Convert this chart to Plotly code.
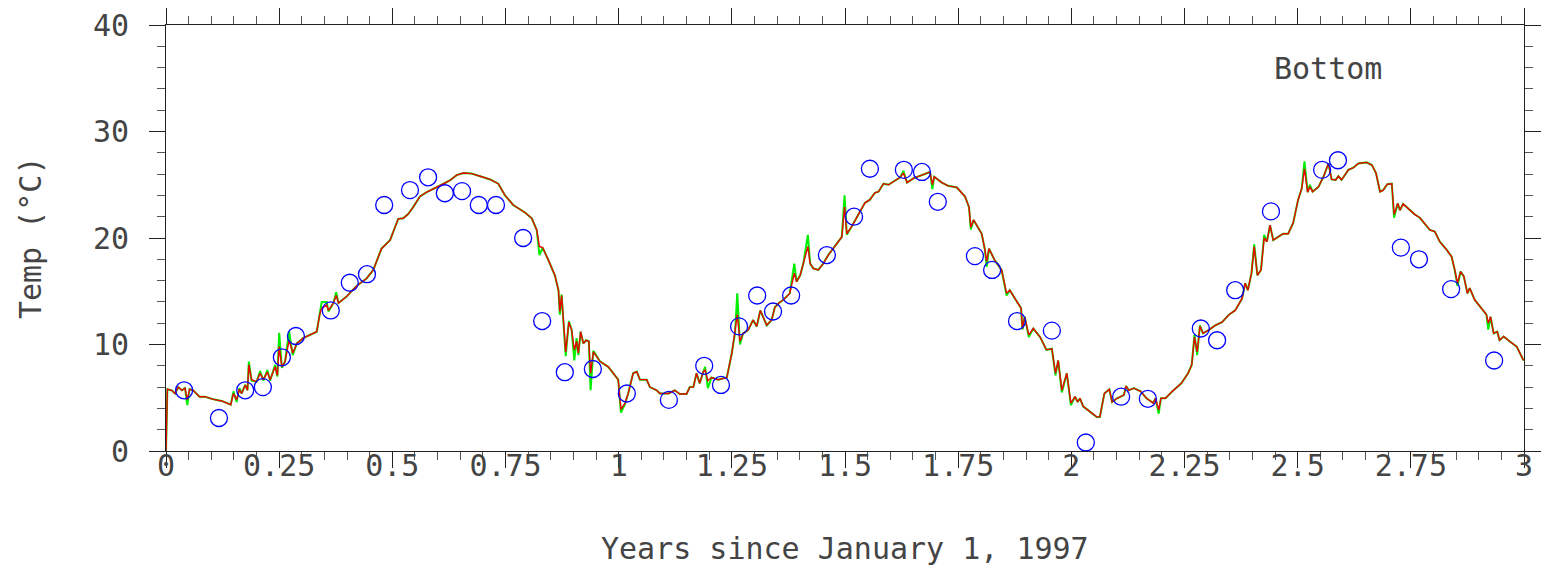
import plotly.graph_objects as go

# ---- model time axis (years since 1997-01-01) ----
t_model = [0.000, 0.003, 0.0125, 0.020, 0.027, 0.035, 0.042, 0.047, 0.052, 0.060,
           0.074, 0.086, 0.105, 0.123, 0.143, 0.149, 0.156, 0.162, 0.167, 0.175,
           0.180, 0.183, 0.189, 0.200, 0.208, 0.215, 0.224, 0.230, 0.241, 0.246,
           0.250, 0.256, 0.263, 0.272, 0.280, 0.289, 0.303, 0.333, 0.340, 0.344,
           0.355, 0.359, 0.370, 0.376, 0.381, 0.399, 0.421, 0.443, 0.458, 0.476,
           0.495, 0.506, 0.513, 0.524, 0.535, 0.546, 0.561, 0.576, 0.591, 0.609,
           0.627, 0.642, 0.657, 0.675, 0.694, 0.716, 0.734, 0.749, 0.767, 0.793,
           0.808, 0.819, 0.825, 0.832, 0.845, 0.859, 0.867, 0.870, 0.874, 0.878,
           0.883, 0.890, 0.896, 0.902, 0.907, 0.911, 0.916, 0.922, 0.928, 0.934,
           0.938, 0.944, 0.959, 0.977, 0.992, 0.999, 1.005, 1.014, 1.021, 1.032,
           1.040, 1.047, 1.062, 1.069, 1.084, 1.091, 1.110, 1.124, 1.135, 1.150,
           1.157, 1.165, 1.172, 1.179, 1.187, 1.191, 1.197, 1.205, 1.220, 1.239,
           1.250, 1.257, 1.262, 1.268, 1.275, 1.286, 1.297, 1.305, 1.313, 1.327,
           1.338, 1.345, 1.354, 1.364, 1.378, 1.388, 1.393, 1.401, 1.408, 1.418,
           1.423, 1.430, 1.441, 1.452, 1.463, 1.478, 1.493, 1.499, 1.504, 1.515,
           1.529, 1.544, 1.555, 1.566, 1.574, 1.585, 1.596, 1.611, 1.622, 1.629,
           1.637, 1.651, 1.669, 1.688, 1.693, 1.697, 1.714, 1.728, 1.747, 1.765,
           1.774, 1.778, 1.784, 1.793, 1.802, 1.809, 1.813, 1.818, 1.831, 1.846,
           1.853, 1.857, 1.864, 1.879, 1.889, 1.892, 1.897, 1.906, 1.916, 1.931,
           1.945, 1.957, 1.965, 1.971, 1.979, 1.990, 1.999, 2.008, 2.014, 2.019,
           2.026, 2.041, 2.056, 2.063, 2.073, 2.084, 2.090, 2.101, 2.116, 2.121,
           2.127, 2.138, 2.153, 2.166, 2.181, 2.186, 2.193, 2.198, 2.208, 2.223,
           2.243, 2.258, 2.266, 2.272, 2.278, 2.284, 2.291, 2.303, 2.318, 2.333,
           2.348, 2.362, 2.377, 2.384, 2.390, 2.398, 2.404, 2.411, 2.419, 2.426,
           2.432, 2.439, 2.446, 2.457, 2.468, 2.479, 2.490, 2.501, 2.509, 2.515,
           2.522, 2.527, 2.533, 2.546, 2.557, 2.568, 2.575, 2.584, 2.590, 2.597,
           2.612, 2.623, 2.634, 2.652, 2.664, 2.673, 2.682, 2.689, 2.698, 2.708,
           2.713, 2.721, 2.726, 2.733, 2.748, 2.759, 2.770, 2.785, 2.792, 2.803,
           2.814, 2.829, 2.840, 2.847, 2.853, 2.860, 2.867, 2.875, 2.880, 2.891,
           2.906, 2.917, 2.921, 2.926, 2.933, 2.941, 2.946, 2.955, 2.968, 2.984,
           2.999]

# ---- red model series (°C) ----
temp_red = [0.0, 5.8, 5.7, 5.4, 6.0, 5.7, 5.9, 4.8, 5.8, 5.7,
            5.1, 5.1, 4.85, 4.7, 4.35, 5.4, 4.8, 5.8, 5.4, 6.2,
            5.7, 8.1, 6.7, 6.5, 7.3, 6.7, 7.4, 6.7, 7.9, 7.1,
            9.8, 7.9, 8.4, 10.4, 9.2, 10.1, 10.6, 11.2, 12.9, 13.4,
            13.7, 13.2, 13.9, 14.6, 13.9, 14.5, 15.5, 16.2, 17.0, 19.0,
            19.8, 21.1, 21.8, 21.85, 22.25, 22.9, 23.9, 24.3, 24.6, 25.0,
            25.4, 25.9, 26.1, 26.05, 25.8, 25.5, 25.1, 24.0, 23.1, 22.4,
            21.85, 20.75, 19.2, 19.1, 17.9, 16.5, 15.1, 13.1, 14.6, 12.0,
            9.3, 12.1, 11.4, 9.5, 10.3, 9.2, 11.2, 10.1, 10.4, 10.3,
            7.3, 9.3, 8.4, 7.9, 7.1, 6.7, 3.9, 4.5, 5.4, 7.3,
            7.45, 6.7, 6.7, 6.0, 5.7, 5.4, 5.4, 5.7, 5.35, 5.35,
            6.0, 6.0, 7.3, 6.35, 7.45, 7.6, 6.6, 6.9, 6.7, 6.9,
            9.2, 11.05, 12.8, 10.3, 11.05, 11.35, 12.3, 11.7, 13.2, 11.8,
            12.3, 13.5, 13.9, 14.2, 14.8, 16.7, 15.9, 16.5, 17.6, 19.2,
            17.6, 17.15, 17.0, 17.6, 18.4, 19.2, 20.1, 22.9, 20.4, 21.1,
            22.2, 23.3, 23.6, 24.25, 24.35, 25.1, 25.0, 25.4, 25.7, 26.1,
            25.2, 25.6, 25.9, 26.2, 25.0, 25.75, 25.2, 24.9, 24.75, 23.9,
            22.9, 21.0, 21.7, 21.0, 20.4, 18.9, 17.8, 19.0, 17.9, 17.0,
            15.4, 14.8, 15.1, 14.0, 13.4, 11.5, 12.6, 10.9, 11.5, 10.7,
            9.5, 9.6, 7.3, 8.5, 5.7, 7.3, 4.5, 5.1, 4.6, 4.95,
            4.2, 3.7, 3.2, 3.2, 5.4, 5.8, 4.6, 4.95, 5.25, 6.1,
            5.7, 5.9, 5.6, 4.95, 4.5, 4.95, 3.85, 4.95, 4.95, 5.6,
            6.35, 7.3, 8.1, 10.7, 9.3, 11.7, 11.05, 11.35, 11.8, 12.1,
            12.8, 13.2, 14.3, 15.75, 15.1, 16.7, 19.2, 16.5, 17.0, 20.0,
            19.65, 21.2, 19.8, 20.1, 20.4, 20.4, 21.4, 23.6, 24.65, 26.5,
            24.3, 24.8, 24.35, 24.8, 25.75, 27.0, 25.5, 25.45, 25.8, 25.45,
            26.4, 26.6, 27.0, 27.1, 26.85, 26.1, 24.35, 24.5, 25.05, 25.1,
            22.2, 23.25, 22.6, 23.2, 22.6, 22.2, 21.9, 21.05, 20.75, 20.6,
            19.65, 18.9, 18.25, 17.0, 15.75, 16.85, 16.4, 14.8, 15.3, 14.2,
            13.4, 12.8, 12.0, 12.6, 11.05, 11.2, 10.4, 10.75, 10.3, 9.8,
            8.5]

# ---- green model series (°C) ----
temp_green = [0.0, 5.8, 5.7, 5.4, 6.0, 5.7, 5.9, 4.3, 5.8, 5.7,
              5.1, 5.1, 4.85, 4.7, 4.35, 5.6, 4.6, 5.9, 5.4, 6.2,
              5.7, 8.4, 6.6, 6.5, 7.5, 6.6, 7.6, 6.6, 8.1, 7.0,
              11.1, 7.8, 8.4, 11.2, 9.0, 10.1, 10.6, 11.2, 13.0, 14.0,
              14.0, 13.1, 13.9, 14.9, 13.9, 14.5, 15.5, 16.2, 17.0, 19.0,
              19.8, 21.1, 21.8, 21.85, 22.25, 22.9, 23.9, 24.3, 24.6, 25.0,
              25.4, 25.9, 26.1, 26.05, 25.8, 25.5, 25.1, 24.0, 23.1, 22.4,
              21.85, 20.75, 18.4, 19.1, 17.9, 16.5, 15.1, 12.8, 14.7, 12.0,
              8.9, 12.2, 11.4, 8.5, 10.6, 9.0, 11.2, 10.1, 10.4, 10.3,
              5.7, 9.4, 8.4, 7.9, 7.1, 6.7, 3.6, 4.4, 5.4, 7.3,
              7.45, 6.7, 6.7, 6.0, 5.7, 5.4, 5.4, 5.7, 5.35, 5.35,
              6.0, 6.0, 7.3, 6.35, 7.45, 7.9, 5.9, 6.9, 6.7, 6.9,
              9.2, 11.05, 14.8, 10.0, 11.05, 11.35, 12.3, 11.7, 13.2, 11.8,
              12.3, 13.5, 13.9, 14.2, 14.8, 17.6, 15.9, 16.5, 17.6, 20.3,
              17.6, 17.15, 17.0, 17.6, 18.4, 19.2, 20.1, 24.0, 20.3, 21.1,
              22.2, 23.3, 23.6, 24.25, 24.35, 25.1, 25.0, 25.4, 25.7, 26.3,
              25.2, 25.6, 25.9, 26.2, 24.6, 25.75, 25.2, 24.9, 24.75, 23.9,
              22.9, 20.8, 21.7, 21.0, 20.4, 18.9, 17.3, 19.0, 17.9, 17.0,
              15.4, 14.6, 15.1, 14.0, 13.4, 11.4, 12.6, 10.7, 11.5, 10.7,
              9.5, 9.6, 7.1, 8.5, 5.5, 7.3, 4.3, 5.1, 4.6, 4.95,
              4.2, 3.7, 3.2, 3.2, 5.4, 5.8, 4.6, 4.95, 5.25, 6.1,
              5.7, 5.9, 5.6, 4.95, 4.5, 4.95, 3.5, 4.95, 4.95, 5.6,
              6.35, 7.3, 8.1, 10.9, 9.0, 11.8, 11.05, 11.35, 11.8, 12.1,
              12.8, 13.2, 14.3, 15.75, 15.1, 16.7, 19.4, 16.5, 17.0, 20.3,
              19.65, 21.2, 19.8, 20.1, 20.4, 20.4, 21.4, 23.6, 24.65, 27.2,
              24.3, 25.0, 24.35, 24.8, 25.75, 27.0, 25.5, 25.45, 25.8, 25.45,
              26.4, 26.6, 27.0, 27.1, 26.85, 26.1, 24.35, 24.5, 25.05, 25.1,
              21.9, 23.25, 22.6, 23.2, 22.6, 22.2, 21.9, 21.05, 20.75, 20.6,
              19.65, 18.9, 18.25, 17.0, 15.5, 16.85, 16.4, 14.8, 15.3, 14.2,
              13.4, 12.8, 11.4, 12.6, 11.05, 11.2, 10.4, 10.75, 10.3, 9.8,
              8.5]

# ---- observations ----
t_obs = [0.040, 0.117, 0.175, 0.214, 0.256, 0.287, 0.364, 0.406, 0.444, 0.482,
         0.539, 0.579, 0.616, 0.654, 0.691, 0.729, 0.789, 0.831, 0.881, 0.943,
         1.018, 1.111, 1.189, 1.226, 1.266, 1.306, 1.341, 1.381, 1.460, 1.520,
         1.555, 1.630, 1.670, 1.705, 1.787, 1.825, 1.880, 1.957, 2.032, 2.110,
         2.169, 2.286, 2.322, 2.362, 2.441, 2.554, 2.589, 2.728, 2.768, 2.839,
         2.934]
temp_obs = [5.7, 3.1, 5.7, 6.0, 8.8, 10.8, 13.2, 15.8, 16.6, 23.1,
            24.5, 25.7, 24.2, 24.4, 23.1, 23.1, 20.0, 12.2, 7.4, 7.7,
            5.4, 4.8, 8.0, 6.2, 11.7, 14.6, 13.1, 14.6, 18.4, 22.0,
            26.5, 26.4, 26.2, 23.4, 18.3, 17.0, 12.2, 11.3, 0.8, 5.1,
            4.9, 11.5, 10.4, 15.1, 22.5, 26.4, 27.3, 19.1, 18.0, 15.2,
            8.5]

x_tickvals = [0, 0.25, 0.5, 0.75, 1, 1.25, 1.5, 1.75, 2, 2.25, 2.5, 2.75, 3]
x_ticktext = ["0", "0.25", "0.5", "0.75", "1", "1.25", "1.5", "1.75", "2",
              "2.25", "2.5", "2.75", "3"]
y_tickvals = [0, 10, 20, 30, 40]

FONT = "DejaVu Sans Mono, monospace"
FS = 30
TXT = "#444444"

fig = go.Figure()
fig.add_trace(go.Scatter(x=t_model, y=temp_green, mode="lines",
                         line=dict(color="#00ee00", width=2), showlegend=False))
fig.add_trace(go.Scatter(x=t_model, y=temp_red, mode="lines",
                         line=dict(color="#ee0000", width=1.4), showlegend=False))
fig.add_trace(go.Scatter(x=t_obs, y=temp_obs, mode="markers",
                         marker=dict(symbol="circle-open", size=17, color="#0000ff",
                                     line=dict(width=1.3, color="#0000ff")),
                         showlegend=False))

axis_common = dict(showline=True, linecolor="#222", linewidth=1, showgrid=False,
                   zeroline=False, ticks="outside", tickcolor="#222", tickwidth=1,
                   mirror="allticks", automargin=False, ticklabeloverflow="allow",
                   tickfont=dict(family=FONT, size=FS, color=TXT))

fig.update_xaxes(range=[0, 3], tickvals=x_tickvals, ticktext=x_ticktext, ticklen=16,
                 minor=dict(dtick=0.05, ticklen=8, tickcolor="#555", ticks="outside"),
                 ticklabelstandoff=-28, **axis_common)
fig.update_yaxes(range=[0, 40], tickvals=y_tickvals, ticklen=16,
                 minor=dict(dtick=2, ticklen=8, tickcolor="#555", ticks="outside"),
                 ticklabelstandoff=14, **axis_common)

# axis titles and panel label
fig.add_annotation(x=0.5, y=-0.2277, xref="paper", yref="paper",
                   text="Years since January 1, 1997", showarrow=False,
                   xanchor="center", yanchor="middle",
                   font=dict(family=FONT, size=FS, color=TXT))
fig.add_annotation(x=-0.1001, y=0.5, xref="paper", yref="paper",
                   text="Temp (°C)", showarrow=False, textangle=-90,
                   xanchor="center", yanchor="middle",
                   font=dict(family=FONT, size=FS, color=TXT))
fig.add_annotation(x=2.567, y=35.9, xref="x", yref="y", text="Bottom", showarrow=False,
                   font=dict(family=FONT, size=FS, color=TXT))

fig.update_layout(width=1541, height=569, plot_bgcolor="white", paper_bgcolor="white",
                  margin=dict(l=166, r=17, t=25, b=118))

# remove the default 8px page margin so the figure fills the window exactly
fig.write_html("out.html", config={"displayModeBar": False},
               post_script="document.body.style.margin='0';document.body.style.overflow='hidden';")
